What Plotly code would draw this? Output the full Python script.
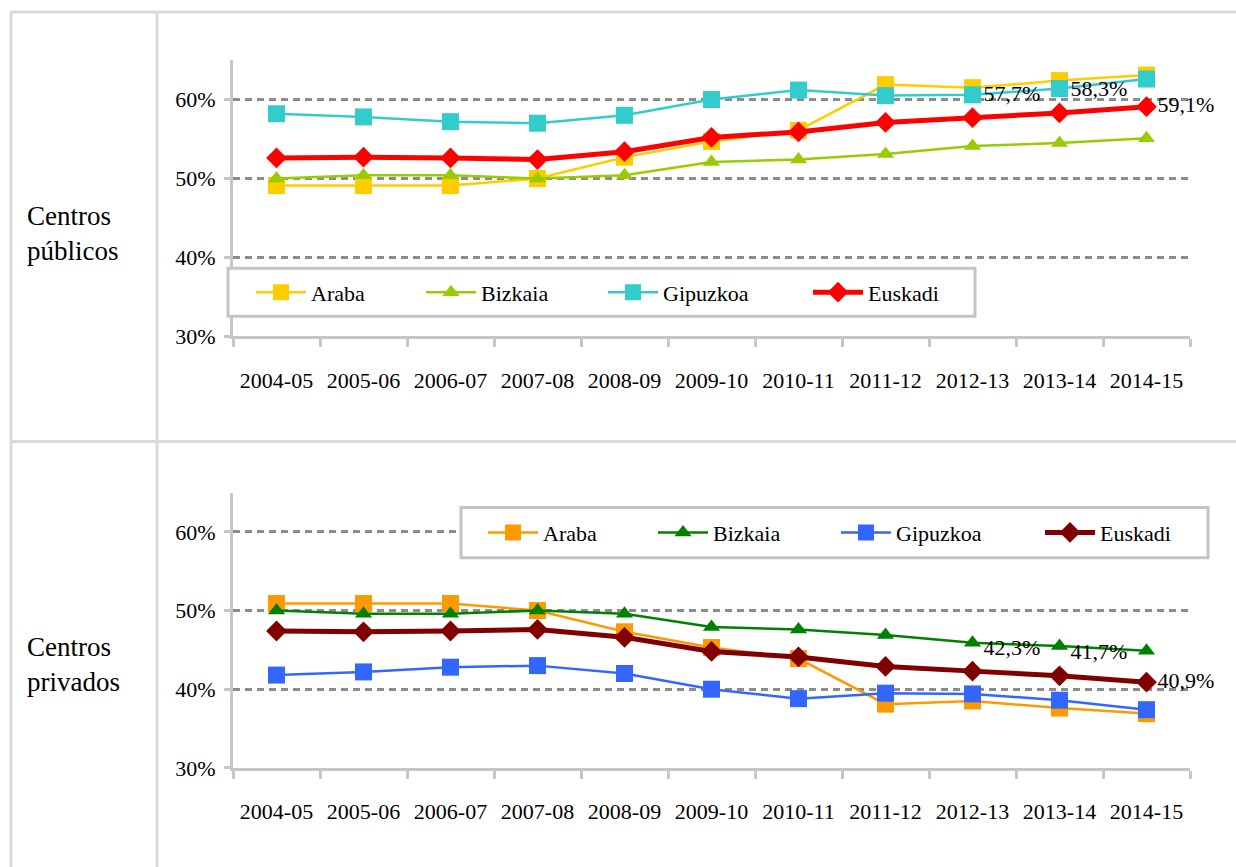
import plotly.graph_objects as go

W, H = 1236, 867          # medidas de la imagen de referencia
H_FIG = 881               # la captura comprime la página en vertical (~0,984)
SERIF = "Liberation Serif, Times New Roman, serif"

cursos = ["2004-05", "2005-06", "2006-07", "2007-08", "2008-09", "2009-10",
          "2010-11", "2011-12", "2012-13", "2013-14", "2014-15"]

# % alumnado en centros públicos
pub_araba = [49.1, 49.1, 49.1, 50.0, 52.7, 54.7, 56.1, 61.9, 61.5, 62.4, 63.1]
pub_bizkaia = [50.0, 50.4, 50.4, 50.0, 50.4, 52.1, 52.4, 53.1, 54.1, 54.5, 55.1]
pub_gipuzkoa = [58.2, 57.8, 57.2, 57.0, 58.0, 60.0, 61.2, 60.5, 60.6, 61.4, 62.6]
pub_euskadi = [52.6, 52.7, 52.6, 52.4, 53.4, 55.2, 55.9, 57.1, 57.7, 58.3, 59.1]

# % alumnado en centros privados
priv_araba = [50.9, 50.9, 50.9, 50.0, 47.3, 45.3, 43.9, 38.1, 38.5, 37.6, 36.9]
priv_bizkaia = [50.0, 49.6, 49.6, 50.0, 49.6, 47.9, 47.6, 46.9, 45.9, 45.5, 44.9]
priv_gipuzkoa = [41.8, 42.2, 42.8, 43.0, 42.0, 40.0, 38.8, 39.5, 39.4, 38.6, 37.4]
priv_euskadi = [47.4, 47.3, 47.4, 47.6, 46.6, 44.8, 44.1, 42.9, 42.3, 41.7, 40.9]

etiquetas_pub = ["", "", "", "", "", "", "", "", "57,7%", "58,3%", "59,1%"]
etiquetas_priv = ["", "", "", "", "", "", "", "", "42,3%", "41,7%", "40,9%"]
pos_etiquetas = ["middle right"] * 8 + ["top right", "top right", "middle right"]

y_ticks = [30, 40, 50, 60]
y_labels = ["30%", "40%", "50%", "60%"]


def px_x(p):
    return p / W


def px_y(p):
    return 1 - p / H


fig = go.Figure()


def serie(y, nombre, color, simbolo, msize, lw, xa, ya, ley, texto=None):
    fig.add_trace(go.Scatter(
        x=cursos, y=y, name=nombre, xaxis=xa, yaxis=ya, legend=ley,
        mode="lines+markers+text" if texto else "lines+markers",
        line=dict(color=color, width=lw),
        marker=dict(color=color, symbol=simbolo, size=msize),
        text=texto, textposition=pos_etiquetas if texto else None,
        textfont=dict(family=SERIF, size=22, color="black"),
        cliponaxis=False, hoverinfo="skip",
    ))


serie(pub_araba, "Araba", "#FFCC00", "square", 17, 2.5, "x", "y", "legend")
serie(pub_bizkaia, "Bizkaia", "#99CC00", "triangle-up", 15, 2.5, "x", "y", "legend2")
serie(pub_gipuzkoa, "Gipuzkoa", "#33CCCC", "square", 17, 2.5, "x", "y", "legend3")
serie(pub_euskadi, "Euskadi", "#FF0000", "diamond", 16, 5, "x", "y", "legend4", etiquetas_pub)

serie(priv_araba, "Araba", "#FF9900", "square", 17, 2.5, "x2", "y2", "legend5")
serie(priv_bizkaia, "Bizkaia", "#008000", "triangle-up", 15, 2.5, "x2", "y2", "legend6")
serie(priv_gipuzkoa, "Gipuzkoa", "#3366FF", "square", 17, 2.5, "x2", "y2", "legend7")
serie(priv_euskadi, "Euskadi", "#800000", "diamond", 16, 5, "x2", "y2", "legend8", etiquetas_priv)

eje_x = dict(
    type="category", range=[-0.5, 10.5], domain=[px_x(233), px_x(1190)],
    showline=True, linecolor="#c6c6c6", linewidth=3,
    ticks="outside", tickson="boundaries", ticklen=8, tickwidth=3, tickcolor="#c6c6c6",
    ticklabelstandoff=22, showgrid=False,
    tickfont=dict(family=SERIF, size=22, color="black"),
)
eje_y = dict(
    range=[30, 65], tickvals=y_ticks, ticktext=y_labels,
    showline=True, linecolor="#c6c6c6", linewidth=3,
    ticks="outside", ticklen=6, tickwidth=3, tickcolor="#c6c6c6", ticklabelstandoff=4,
    showgrid=True, gridcolor="#8c8c8c", gridwidth=2.5, griddash="7px,5px",
    zeroline=False, tickfont=dict(family=SERIF, size=22, color="black"),
)

# una leyenda por serie para colocar cada entrada como en el original
ley_base = dict(orientation="h", xanchor="left", yanchor="middle",
                bgcolor="rgba(0,0,0,0)", borderwidth=0, itemwidth=50,
                font=dict(family=SERIF, size=22, color="black"))
pos_ley = [(251, 292), (421, 292), (603, 292), (808, 292),
           (483, 532), (653, 532), (836, 532), (1040, 532)]
leyendas = {}
for i, (lx, ly) in enumerate(pos_ley):
    clave = "legend" if i == 0 else f"legend{i + 1}"
    leyendas[clave] = dict(ley_base, x=px_x(lx), y=px_y(ly))

fig.update_layout(
    width=W, height=H_FIG, margin=dict(l=0, r=0, t=0, b=0),
    paper_bgcolor="white", plot_bgcolor="white",
    xaxis=dict(eje_x, anchor="y"),
    yaxis=dict(eje_y, anchor="x", domain=[px_y(336), px_y(60)]),
    xaxis2=dict(eje_x, anchor="y2"),
    yaxis2=dict(eje_y, anchor="x2", domain=[px_y(767), px_y(492)]),
    showlegend=True,
    **leyendas,
)

# rejilla de la tabla
gris = dict(color="#d9d9d9", width=3)
for x0, y0, x1, y1 in [(11, 12, W, 12), (11, 441, W, 441), (11, 12, 11, H), (157, 12, 157, H)]:
    fig.add_shape(type="line", xref="paper", yref="paper",
                  x0=px_x(x0), y0=px_y(y0), x1=px_x(x1), y1=px_y(y1), line=gris, layer="below")

# cajas de las leyendas
for x0, y0, x1, y1 in [(228, 268, 975, 316), (461, 507, 1208, 557)]:
    fig.add_shape(type="rect", xref="paper", yref="paper",
                  x0=px_x(x0), y0=px_y(y0), x1=px_x(x1), y1=px_y(y1),
                  fillcolor="white", line=dict(color="#c4c4c4", width=3), layer="above")

for texto, yc in [("Centros<br>públicos", 233), ("Centros<br>privados", 664)]:
    fig.add_annotation(text=texto, xref="paper", yref="paper", x=px_x(25), y=px_y(yc),
                       xanchor="left", yanchor="middle", align="left", showarrow=False,
                       font=dict(family=SERIF, size=27, color="black"))

# sin márgenes en la página, para que la figura ocupe la ventana tal cual
fig.write_html("out.html", config={"displayModeBar": False},
               post_script="document.body.style.margin='0';document.body.style.overflow='hidden';")
